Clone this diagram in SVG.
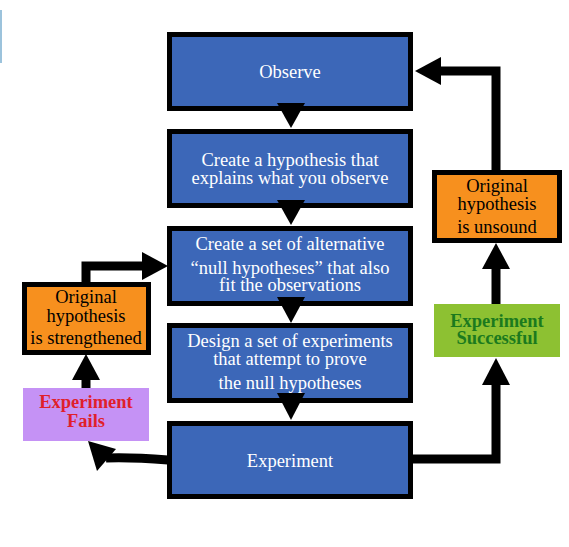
<svg xmlns="http://www.w3.org/2000/svg" width="569" height="547" viewBox="0 0 569 547">
<style>
.step{fill:#3c67b8;stroke:#000;stroke-width:5}
.res{fill:#f7901e;stroke:#000;stroke-width:5}
.t{font-family:'Liberation Serif','DejaVu Serif',serif;font-size:18.5px;text-anchor:middle}
.w{fill:#fff}
.k{fill:#000}
.b{font-weight:bold}
.ln{fill:none;stroke:#000;stroke-width:9}
</style>
<rect x="0" y="10" width="2" height="53" fill="#9cc3dc"/>
<g id="observe"><rect class="step" x="169.5" y="34.5" width="241" height="74"/><text class="t w" x="290" y="78">Observe</text></g>
<g id="hypothesis"><rect class="step" x="169.5" y="131.5" width="241" height="74"/><text class="t w" x="290" y="166">Create a hypothesis that</text><text class="t w" x="290" y="184">explains what you observe</text></g>
<g id="null"><rect class="step" x="169.5" y="228.5" width="241" height="75"/><text class="t w" x="290" y="250">Create a set of alternative</text><text class="t w" x="290" y="274">“null hypotheses” that also</text><text class="t w" x="290" y="291">fit the observations</text></g>
<g id="design"><rect class="step" x="169.5" y="325.5" width="241" height="75"/><text class="t w" x="290" y="347">Design a set of experiments</text><text class="t w" x="290" y="365">that attempt to prove</text><text class="t w" x="290" y="389">the null hypotheses</text></g>
<g id="experiment"><rect class="step" x="169.5" y="423.5" width="241" height="73"/><text class="t w" x="290" y="467">Experiment</text></g>
<g id="unsound"><rect class="res" x="434.5" y="172.5" width="125" height="68"/><text class="t k" x="497" y="192">Original</text><text class="t k" x="497" y="210">hypothesis</text><text class="t k" x="497" y="233">is unsound</text></g>
<g id="strengthened"><rect class="res" x="24.5" y="284.5" width="124" height="68"/><text class="t k" x="86" y="303">Original</text><text class="t k" x="86" y="322">hypothesis</text><text class="t k" x="86" y="344">is strengthened</text></g>
<g id="successful"><rect x="434" y="304" width="126" height="53" fill="#8dc132"/><text class="t b" x="497" y="327" fill="#1b7a1e">Experiment</text><text class="t b" x="497" y="344" fill="#1b7a1e">Successful</text></g>
<g id="fails"><rect x="23" y="388" width="126" height="53" fill="#c592f5"/><text class="t b" x="86" y="408" fill="#e01f2b">Experiment</text><text class="t b" x="86" y="427" fill="#e01f2b">Fails</text></g>
<g id="connectors">
<polygon points="277,103 305,103 291,128"/>
<polygon points="277,200 305,200 291,225"/>
<polygon points="277,297 305,297 291,323"/>
<polygon points="277,393 305,393 291,420"/>
<path class="ln" d="M413,459 H496 V384"/>
<polygon points="482,385 510,385 496,358"/>
<path class="ln" d="M496,304 V268"/>
<polygon points="482,269 510,269 496,243"/>
<path class="ln" d="M496,172 V71 H440"/>
<polygon points="441,57 441,85 415,71"/>
<path class="ln" d="M168,460 Q130,457 106,458"/>
<polygon points="88,441 97,471 116,449"/>
<path class="ln" d="M86,284 V266 H143"/>
<polygon points="142,252 142,280 168,266"/>
<path class="ln" d="M86,388 V379"/>
<polygon points="72,380 100,380 86,354"/>
</g>
</svg>
